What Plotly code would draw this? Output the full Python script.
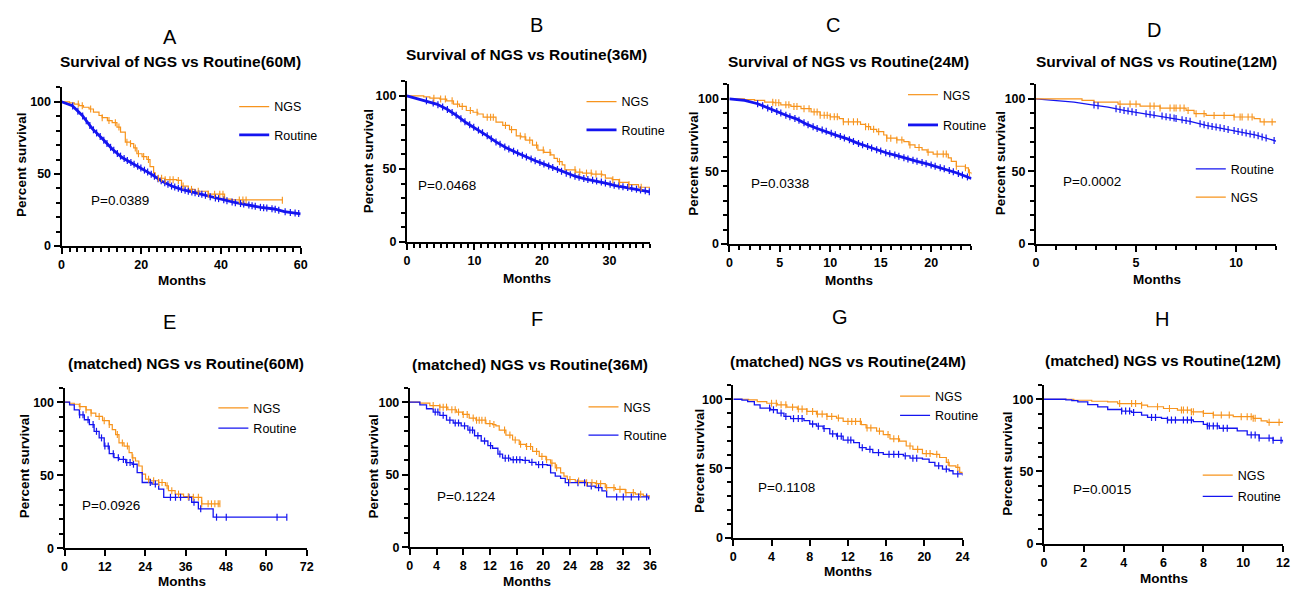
import numpy as np
import plotly.graph_objects as go

# ---------------- data ----------------
# Panel A : Survival of NGS vs Routine (60M)
A_ngs_t = [0, 2.0, 3.2, 4.4, 5.5, 6.9, 8.0, 9.4, 10.2, 11.5, 12.7, 13.9, 14.8, 16.0, 17.3, 18.1, 18.9, 20.2, 21.4, 22.2, 23.1, 23.5, 26.0, 28.9, 30.1, 31.8, 33.5, 36.8, 40.9, 42.6, 55.4]
A_ngs_s = [100, 99.3, 98.4, 97.3, 96.2, 95.0, 92.8, 90.5, 89.0, 87.0, 85.5, 82.5, 79.0, 72.0, 71.0, 68.0, 64.0, 62.0, 60.0, 55.0, 50.7, 47.0, 46.0, 45.5, 41.6, 39.3, 38.0, 36.0, 32.5, 32.0, 31.8]
A_ngs_c = [4.2, 5.2, 7.3, 10.2, 11.9, 13.5, 14.4, 16.4, 17.3, 18.5, 19.3, 20.6, 21.8, 24.3, 25.1, 26.0, 27.2, 28.0, 29.3, 30.5, 32.6, 34.3, 36.8, 38.4, 39.7, 40.5, 44.6, 45.5, 46.3, 55.4]
A_rt_t = [0, 2.7, 5.2, 7.7, 10.2, 12.7, 15.2, 17.7, 20.2, 22.7, 25.1, 27.6, 30.1, 32.6, 35.1, 37.6, 40.0, 43.4, 46.7, 50.0, 53.4, 55.9, 60.0]
A_rt_s = [100, 97.3, 90.5, 81.4, 74.5, 67.3, 61.4, 57.5, 53.6, 49.5, 45.0, 41.6, 39.3, 37.5, 36.0, 34.0, 32.5, 30.2, 28.6, 26.8, 25.7, 23.9, 22.3]
A_rt_c = [2.8, 4.1, 5.3, 6.2, 7.1, 8.0, 8.8, 9.7, 10.6, 11.4, 12.3, 13.1, 14.0, 14.8, 15.7, 16.5, 17.4, 18.2, 19.1, 19.9, 20.8, 21.6, 22.5, 23.3, 24.2, 25.0, 25.9, 26.7, 27.6, 28.4, 29.3, 30.1, 31.0, 31.8, 32.7, 33.5, 34.4, 35.2, 36.1, 37.3, 38.6, 39.4, 40.7, 41.5, 42.8, 43.6, 44.9, 45.7, 47.0, 47.8, 48.6, 49.9, 50.7, 51.5, 52.8, 53.6, 54.5, 56.1, 57.4, 58.6, 59.5]

# Panel B : Survival of NGS vs Routine (36M)
B_ngs_t = [0, 2.5, 3.4, 4.9, 5.9, 6.9, 7.8, 8.8, 9.8, 10.5, 11.3, 13.2, 14.2, 15.2, 16.2, 16.9, 17.6, 18.6, 19.4, 20.3, 21.3, 21.8, 22.3, 23.0, 23.4, 25.0, 26.0, 27.4, 28.9, 29.4, 30.4, 31.4, 32.8, 34.3, 36.0]
B_ngs_s = [100, 99.3, 98.4, 97.8, 96.6, 94.4, 92.8, 90.0, 88.8, 87.6, 85.4, 82.0, 79.8, 76.9, 72.6, 72.0, 69.7, 66.3, 62.9, 61.3, 59.6, 57.3, 55.0, 52.8, 49.4, 47.9, 47.2, 46.5, 46.0, 43.8, 42.7, 40.9, 39.3, 37.5, 36.6]
B_ngs_c = [4.0, 5.0, 5.7, 6.7, 7.5, 8.2, 9.4, 10.4, 11.9, 12.4, 12.8, 14.6, 15.5, 16.8, 17.5, 18.2, 19.2, 20.2, 21.2, 22.6, 24.9, 25.6, 26.6, 27.3, 28.0, 28.8, 30.5, 31.5, 32.9, 34.7]
B_rt_t = [0, 1.5, 2.9, 4.4, 5.9, 7.4, 8.8, 10.3, 11.8, 13.2, 14.7, 16.2, 17.6, 19.1, 20.6, 22.1, 23.5, 25.0, 26.5, 27.9, 29.4, 30.9, 32.4, 33.8, 36.0]
B_rt_s = [100, 98.2, 96.6, 94.4, 91.0, 86.5, 81.6, 77.5, 73.0, 68.5, 64.5, 61.3, 58.4, 55.5, 52.8, 50.1, 47.2, 44.9, 43.1, 42.0, 40.4, 38.7, 37.5, 36.4, 34.4]
B_rt_c = [2.9, 3.9, 4.6, 5.3, 6.0, 6.7, 7.3, 8.0, 8.6, 9.3, 9.9, 10.6, 11.2, 11.9, 12.5, 13.2, 13.8, 14.5, 15.1, 15.8, 16.4, 17.1, 17.7, 18.4, 19.0, 19.7, 20.3, 21.0, 21.6, 22.3, 22.9, 23.6, 24.2, 24.9, 25.5, 26.2, 26.8, 27.5, 28.1, 28.8, 29.4, 30.1, 30.7, 31.4, 32.0, 32.7, 33.3, 34.0, 34.6, 35.3, 35.9]

# Panel C : Survival of NGS vs Routine (24M)
C_ngs_t = [0, 1.5, 2.5, 3.5, 4.4, 5.1, 6.1, 7.1, 8.1, 9.0, 10.0, 10.9, 11.3, 13.0, 13.5, 14.0, 14.6, 15.3, 15.6, 16.6, 17.3, 17.8, 18.4, 19.1, 19.6, 20.2, 21.7, 22.0, 22.5, 23.4, 23.7, 24.0]
C_ngs_s = [100, 99.5, 99.0, 97.7, 97.3, 95.9, 94.8, 93.2, 91.0, 88.7, 87.6, 86.4, 84.2, 82.4, 80.8, 79.0, 77.4, 75.1, 72.9, 71.7, 70.6, 68.3, 66.5, 64.9, 63.3, 62.0, 59.3, 57.0, 53.6, 52.5, 49.1, 48.0]
C_ngs_c = [4.3, 4.6, 4.9, 5.6, 5.9, 6.4, 6.7, 7.4, 7.9, 8.4, 8.7, 9.0, 9.4, 9.7, 10.0, 10.4, 10.7, 11.3, 11.8, 12.3, 12.7, 13.5, 13.8, 14.3, 14.8, 15.6, 16.0, 16.6, 17.1, 17.9, 18.8, 19.7, 20.6, 21.2, 21.5, 22.5, 23.4, 23.8]
C_rt_t = [0, 1.5, 2.8, 3.8, 4.8, 5.8, 6.7, 7.7, 8.7, 9.7, 10.7, 11.7, 12.7, 13.7, 14.6, 15.6, 16.6, 17.6, 18.6, 19.6, 20.6, 21.5, 22.5, 24.0]
C_rt_s = [100, 98.9, 96.6, 93.7, 91.0, 88.2, 86.0, 82.4, 79.6, 77.4, 74.7, 72.4, 69.5, 67.2, 64.9, 62.7, 60.9, 58.8, 57.0, 55.2, 53.2, 51.4, 49.1, 45.2]
C_rt_c = [2.8, 3.3, 3.8, 4.2, 4.7, 5.1, 5.6, 6.0, 6.5, 6.9, 7.4, 7.8, 8.3, 8.7, 9.2, 9.6, 10.1, 10.5, 11.0, 11.4, 11.9, 12.3, 12.8, 13.2, 13.7, 14.1, 14.6, 15.0, 15.5, 15.9, 16.4, 16.8, 17.3, 17.7, 18.2, 18.6, 19.1, 19.5, 20.0, 20.4, 20.9, 21.3, 21.8, 22.2, 22.7, 23.1, 23.6]

# Panel D : Survival of NGS vs Routine (12M)
D_ngs_t = [0, 2.3, 2.9, 4.1, 5.2, 6.2, 7.5, 7.9, 8.5, 9.9, 10.9, 11.2, 12.0]
D_ngs_s = [100, 98.9, 97.7, 96.4, 95.0, 93.6, 92.0, 89.8, 88.6, 87.5, 86.4, 84.1, 84.1]
D_ngs_c = [4.2, 4.7, 5.0, 5.7, 5.9, 6.2, 6.7, 6.9, 7.0, 7.2, 7.4, 7.6, 8.0, 8.4, 8.9, 9.4, 9.9, 10.2, 10.3, 10.6, 10.8, 11.4, 11.8]
D_rt_t = [0, 1.1, 1.9, 2.8, 3.6, 4.4, 5.2, 6.1, 6.9, 7.7, 8.5, 9.4, 10.2, 11.0, 12.0]
D_rt_s = [100, 98.9, 97.7, 95.9, 94.3, 92.0, 90.2, 88.6, 86.8, 84.5, 81.8, 79.5, 77.3, 75.0, 70.9]
D_rt_c = [2.9, 3.1, 4.0, 4.2, 4.4, 4.6, 4.8, 5.0, 5.5, 5.7, 5.9, 6.3, 6.5, 6.7, 6.9, 7.0, 7.3, 7.5, 7.7, 8.2, 8.4, 8.6, 8.8, 9.0, 9.2, 9.4, 9.6, 9.9, 10.1, 10.3, 10.5, 10.7, 10.9, 11.1, 11.3, 11.5, 11.9]

# Panel E : (matched) NGS vs Routine (60M)
E_ngs_t = [0, 1.5, 2.9, 4.4, 6.4, 7.9, 9.3, 11.3, 13.3, 14.2, 15.2, 16.2, 17.7, 19.2, 20.1, 21.1, 22.1, 23.1, 24.1, 25.5, 28.0, 30.0, 30.9, 32.9, 35.4, 38.3, 40.8, 46.2]
E_ngs_s = [100, 99.3, 98.6, 97.0, 94.8, 92.6, 90.3, 87.4, 84.7, 81.3, 77.9, 72.2, 70.0, 65.5, 62.0, 59.8, 56.4, 50.8, 47.4, 46.3, 45.1, 42.9, 39.5, 37.2, 35.4, 35.0, 30.5, 30.5]
E_ngs_c = [4.6, 6.4, 7.9, 10.3, 11.8, 13.3, 15.7, 17.2, 18.7, 20.3, 25.0, 26.5, 28.0, 29.0, 30.5, 31.9, 33.9, 36.8, 38.3, 39.8, 40.8, 42.7, 43.7, 44.7, 45.7, 46.2]
E_rt_t = [0, 1.5, 2.9, 4.4, 5.9, 7.4, 8.8, 10.3, 11.8, 13.3, 14.7, 16.2, 18.2, 20.1, 21.6, 23.1, 26.0, 28.0, 29.5, 35.4, 37.8, 39.8, 44.2, 66.1]
E_rt_s = [100, 98.2, 94.8, 91.4, 88.0, 84.7, 80.1, 75.6, 70.0, 64.8, 62.1, 60.9, 58.7, 57.6, 51.9, 45.1, 44.0, 40.6, 35.0, 35.0, 31.6, 27.1, 21.4, 21.4]
E_rt_c = [4.5, 5.5, 7.0, 8.5, 9.5, 11.0, 12.0, 13.0, 14.5, 16.0, 17.5, 18.5, 19.5, 20.5, 25.5, 27.0, 31.5, 33.0, 34.5, 37.0, 38.5, 40.5, 45.2, 48.1, 63.2, 66.1]

# Panel F : (matched) NGS vs Routine (36M)
F_ngs_t = [0, 1.5, 3.0, 4.5, 5.7, 7.0, 7.9, 8.9, 9.9, 11.4, 12.4, 12.9, 13.4, 14.4, 15.4, 16.4, 17.4, 18.4, 19.4, 20.4, 21.1, 21.8, 22.6, 23.1, 23.6, 24.8, 26.3, 27.8, 29.3, 30.8, 32.3, 33.8, 35.0, 36.0]
F_ngs_s = [100, 99.3, 97.7, 96.6, 94.8, 93.2, 91.6, 89.1, 87.6, 85.3, 84.6, 83.7, 80.8, 77.4, 74.0, 71.0, 69.5, 66.1, 62.7, 60.4, 58.1, 54.8, 51.4, 49.1, 46.8, 45.7, 44.6, 43.9, 41.2, 40.0, 37.8, 36.7, 35.5, 33.9]
F_ngs_c = [3.5, 4.5, 5.0, 5.5, 6.3, 6.8, 7.3, 8.0, 8.6, 9.5, 10.0, 10.4, 10.8, 11.3, 12.0, 12.6, 14.2, 15.0, 15.8, 16.6, 17.5, 18.1, 19.0, 19.8, 20.5, 21.3, 22.0, 24.0, 25.3, 26.5, 27.3, 28.0, 28.6, 29.5, 30.6, 31.5, 32.4, 33.5, 34.6]
F_rt_t = [0, 1.5, 2.5, 3.5, 4.5, 5.5, 6.5, 7.7, 8.7, 9.7, 10.7, 11.7, 12.4, 13.2, 13.9, 15.1, 16.9, 17.9, 18.9, 20.6, 21.1, 21.8, 22.6, 23.3, 25.8, 26.6, 27.8, 28.8, 29.5, 35.8]
F_rt_s = [100, 98.2, 95.5, 93.2, 91.0, 87.6, 85.7, 83.7, 80.8, 76.9, 73.3, 70.1, 68.3, 64.3, 61.5, 60.4, 60.0, 58.6, 57.0, 56.6, 51.4, 49.1, 47.5, 44.6, 44.6, 42.3, 41.2, 38.9, 34.8, 33.0]
F_rt_c = [3.8, 4.2, 5.0, 6.0, 6.8, 7.3, 8.2, 9.0, 9.4, 10.2, 11.2, 12.1, 13.5, 14.3, 14.8, 15.5, 16.0, 16.5, 17.3, 18.3, 19.3, 19.9, 23.8, 25.2, 26.2, 27.2, 28.3, 31.0, 32.0, 33.2, 34.3, 35.5]

# Panel G : (matched) NGS vs Routine (24M)
G_ngs_t = [0, 1.6, 2.5, 3.5, 4.6, 5.6, 6.7, 7.7, 8.7, 9.8, 10.8, 11.5, 13.4, 13.9, 15.0, 15.7, 16.4, 17.4, 18.1, 18.8, 19.8, 20.9, 21.6, 22.3, 22.6, 23.3, 23.7, 24.0]
G_ngs_s = [100, 99.5, 98.3, 97.1, 96.0, 94.3, 92.9, 91.2, 89.3, 87.6, 86.4, 84.0, 81.7, 79.3, 76.9, 74.5, 71.4, 69.8, 66.2, 63.8, 60.7, 60.2, 57.9, 54.3, 51.9, 50.7, 47.1, 46.0]
G_ngs_c = [4.0, 4.5, 5.0, 5.5, 6.2, 6.8, 7.2, 7.7, 8.3, 8.8, 9.3, 9.8, 10.3, 11.0, 12.0, 12.4, 12.8, 13.3, 14.0, 14.4, 15.3, 16.2, 16.8, 17.3, 18.5, 19.3, 20.2, 20.6, 21.3, 22.5, 23.5]
G_rt_t = [0, 0.9, 1.5, 2.2, 2.8, 3.9, 4.6, 5.3, 6.0, 7.4, 8.0, 8.7, 9.4, 10.1, 10.8, 11.5, 12.6, 13.2, 13.9, 14.6, 15.7, 17.8, 18.5, 19.8, 20.5, 21.1, 21.9, 22.6, 23.0, 24.0]
G_rt_s = [100, 99.3, 98.3, 96.0, 93.6, 92.4, 90.0, 87.6, 86.0, 84.5, 82.1, 80.5, 78.8, 75.0, 73.3, 70.5, 68.6, 65.0, 63.8, 61.4, 60.2, 59.0, 57.4, 56.7, 54.3, 51.9, 49.5, 48.3, 46.0, 44.8]
G_rt_c = [3.8, 4.2, 5.0, 5.5, 6.3, 6.8, 7.2, 8.3, 8.9, 9.5, 10.4, 10.9, 11.3, 12.0, 12.3, 13.5, 14.3, 15.2, 16.3, 16.8, 17.3, 18.0, 18.8, 19.2, 21.5, 22.3, 23.5]

# Panel H : (matched) NGS vs Routine (12M)
H_ngs_t = [0, 1.5, 2.4, 3.2, 3.7, 4.9, 5.2, 6.0, 6.7, 7.4, 8.0, 8.5, 9.5, 10.5, 10.9, 11.2, 12.0]
H_ngs_s = [100, 99.3, 98.6, 98.2, 97.0, 95.9, 94.8, 93.6, 92.5, 91.3, 90.2, 89.0, 87.9, 86.8, 85.0, 84.0, 84.0]
H_ngs_c = [3.8, 4.4, 4.6, 4.9, 5.7, 6.3, 6.9, 7.0, 7.2, 7.4, 7.5, 8.0, 8.5, 8.9, 9.3, 9.9, 10.2, 10.4, 10.5, 10.6, 11.3, 11.8]
H_rt_t = [0, 1.1, 1.4, 1.7, 2.2, 2.7, 3.2, 3.9, 4.4, 4.9, 5.2, 5.9, 6.2, 7.5, 8.0, 8.2, 8.8, 9.7, 10.2, 10.8, 11.5, 12.0]
H_rt_s = [100, 99.5, 99.0, 98.2, 96.3, 94.7, 92.9, 91.8, 90.9, 89.0, 87.4, 86.8, 85.6, 84.5, 82.6, 81.5, 79.9, 78.1, 75.3, 73.1, 71.5, 70.1]
H_rt_c = [3.9, 4.1, 4.3, 4.5, 5.4, 5.6, 6.2, 6.4, 6.6, 7.0, 7.2, 7.4, 8.2, 8.3, 8.5, 8.7, 9.0, 9.2, 10.4, 10.6, 10.8, 11.3, 11.5, 11.9]

letters = ["A", "B", "C", "D", "E", "F", "G", "H"]
titles = ["Survival of NGS vs Routine(60M)", "Survival of NGS vs Routine(36M)",
          "Survival of NGS vs Routine(24M)", "Survival of NGS vs Routine(12M)",
          "(matched) NGS vs Routine(60M)", "(matched) NGS vs Routine(36M)",
          "(matched) NGS vs Routine(24M)", "(matched) NGS vs Routine(12M)"]
p_values = ["P=0.0389", "P=0.0468", "P=0.0338", "P=0.0002",
            "P=0.0926", "P=0.1224", "P=0.1108", "P=0.0015"]
x_max = [60, 36, 24, 12, 72, 36, 24, 12]
x_dtick = [20, 10, 5, 5, 12, 4, 4, 2]
x_minor = [2, 1, 1, 1, None, None, None, None]
legend_order = [["NGS", "Routine"]] * 3 + [["Routine", "NGS"]] + [["NGS", "Routine"]] * 4

series = {
    "A": ((A_ngs_t, A_ngs_s, A_ngs_c), (A_rt_t, A_rt_s, A_rt_c)),
    "B": ((B_ngs_t, B_ngs_s, B_ngs_c), (B_rt_t, B_rt_s, B_rt_c)),
    "C": ((C_ngs_t, C_ngs_s, C_ngs_c), (C_rt_t, C_rt_s, C_rt_c)),
    "D": ((D_ngs_t, D_ngs_s, D_ngs_c), (D_rt_t, D_rt_s, D_rt_c)),
    "E": ((E_ngs_t, E_ngs_s, E_ngs_c), (E_rt_t, E_rt_s, E_rt_c)),
    "F": ((F_ngs_t, F_ngs_s, F_ngs_c), (F_rt_t, F_rt_s, F_rt_c)),
    "G": ((G_ngs_t, G_ngs_s, G_ngs_c), (G_rt_t, G_rt_s, G_rt_c)),
    "H": ((H_ngs_t, H_ngs_s, H_ngs_c), (H_rt_t, H_rt_s, H_rt_c)),
}

# ---------------- layout (pixel positions in the 1299 x 595 canvas) ----------------
W, H = 1299, 595
# axes: x0, x1, y(0), y(100)
ax_px = [(59, 300, 249, 103), (407, 652, 245, 97), (732, 976, 247, 100), (1041, 1283, 247, 100),
         (62, 306, 555, 407), (410, 652, 554, 407), (736, 967, 544, 404), (1049, 1290, 550, 404)]
letter_px = [(168, 37), (538, 25), (836, 25), (1160, 30), (168, 326), (538, 323), (843, 321), (1168, 323)]
title_px = [(179, 62), (528, 55), (852, 62), (1162, 62), (184, 368), (531, 369), (852, 366), (1169, 365)]
ylab_px = [(18, 167), (368, 163), (695, 166), (1005, 165), (22, 472), (373, 472), (702, 467), (1012, 469)]
xlab_px = [(180, 284), (528, 282), (853, 284), (1163, 283), (180, 588), (528, 588), (852, 578), (1170, 585)]
p_px = [(118, 203), (447, 188), (783, 186), (1097, 184), (109, 512), (467, 502), (790, 493), (1108, 495)]
# legend: text start x, first entry centre y, entry spacing
leg_px = [(273, 103, 30), (623, 98, 30), (947, 91, 32), (1237, 166, 30),
          (252, 408, 22), (625, 407, 30), (939, 396, 21), (1244, 476, 23)]

ORANGE = "#F7941D"
BLUE = "#1414F0"
FONT = "Liberation Sans, Arial, Helvetica, sans-serif"
YMAX = 110


def fx(px):
    return px / W


def fy(py):
    return 1 - py / H


def level_at(t_arr, s_arr, t, linear):
    if linear:
        return float(np.interp(t, t_arr, s_arr))
    idx = int(np.searchsorted(np.asarray(t_arr), t, side="right")) - 1
    return s_arr[max(idx, 0)]


fig = go.Figure()
layout = dict(width=W, height=H, margin=dict(l=0, r=0, t=0, b=0),
              paper_bgcolor="white", plot_bgcolor="white",
              font=dict(family=FONT, color="black"), annotations=[])

for i, key in enumerate(letters):
    n = i + 1
    xa = "x" if n == 1 else f"x{n}"
    ya = "y" if n == 1 else f"y{n}"
    lg = "legend" if n == 1 else f"legend{n}"
    x0, x1, yb, y100 = ax_px[i]
    ytop = yb - (yb - y100) * YMAX / 100.0

    (nt, ns, nc), (rt, rs, rc) = series[key]
    rt_linear = key in ("A", "B", "C", "D")
    dense = key in ("A", "B", "C")
    rt_width = 2.8 if dense else 1.3

    line_traces = {
        "NGS": go.Scatter(x=nt, y=ns, mode="lines", name="NGS", line=dict(color=ORANGE, width=1.2, shape="hv"),
                          xaxis=xa, yaxis=ya, legend=lg, legendgroup=f"{key}ngs", cliponaxis=False,
                          hoverinfo="skip"),
        "Routine": go.Scatter(x=rt, y=rs, mode="lines", name="Routine",
                              line=dict(color=BLUE, width=rt_width, shape="linear" if rt_linear else "hv"),
                              xaxis=xa, yaxis=ya, legend=lg, legendgroup=f"{key}rt", cliponaxis=False,
                              hoverinfo="skip"),
    }
    for name in legend_order[i]:
        fig.add_trace(line_traces[name])

    # censor ticks
    fig.add_trace(go.Scatter(x=rc, y=[level_at(rt, rs, c, rt_linear) for c in rc], mode="markers",
                             marker=dict(symbol="line-ns", size=5, line=dict(color=BLUE, width=1.2)),
                             xaxis=xa, yaxis=ya, showlegend=False, cliponaxis=False, hoverinfo="skip"))
    fig.add_trace(go.Scatter(x=nc, y=[level_at(nt, ns, c, False) for c in nc], mode="markers",
                             marker=dict(symbol="line-ns", size=5, line=dict(color=ORANGE, width=1.1)),
                             xaxis=xa, yaxis=ya, showlegend=False, cliponaxis=False, hoverinfo="skip"))

    xaxis = dict(domain=[fx(x0), fx(x1)], range=[0, x_max[i]], anchor=ya, showline=True, linecolor="black",
                 linewidth=2, ticks="outside", ticklen=6, tickwidth=2, tickcolor="black", tick0=0,
                 dtick=x_dtick[i], showgrid=False, zeroline=False, fixedrange=True,
                 tickfont=dict(family=FONT, size=12.5, color="black", weight="bold"))
    if x_minor[i]:
        xaxis["minor"] = dict(dtick=x_minor[i], tick0=0, ticks="outside", ticklen=4, tickwidth=1.5,
                              tickcolor="black", showgrid=False)
    yaxis = dict(domain=[fy(yb), fy(ytop)], range=[0, YMAX], anchor=xa, showline=True, linecolor="black",
                 linewidth=2, ticks="outside", ticklen=6, tickwidth=2, tickcolor="black", tick0=0, dtick=50,
                 showgrid=False, zeroline=False, fixedrange=True,
                 tickfont=dict(family=FONT, size=12.5, color="black", weight="bold"),
                 minor=dict(dtick=10, tick0=0, ticks="outside", ticklen=4, tickwidth=1.5, tickcolor="black",
                            showgrid=False))
    layout["xaxis" if n == 1 else f"xaxis{n}"] = xaxis
    layout["yaxis" if n == 1 else f"yaxis{n}"] = yaxis

    tx, ty1, sp = leg_px[i]
    layout[lg] = dict(x=fx(tx - 40), y=fy(ty1 - 10), xanchor="left", yanchor="top", bgcolor="rgba(0,0,0,0)",
                      borderwidth=0, traceorder="grouped", tracegroupgap=max(sp - 21, 0),
                      font=dict(family=FONT, size=12.5, color="black"), itemclick=False, itemdoubleclick=False)

    ann = layout["annotations"]
    ann.append(dict(text=key, x=fx(letter_px[i][0]), y=fy(letter_px[i][1]), xref="paper", yref="paper",
                    showarrow=False, xanchor="center", yanchor="middle", font=dict(size=20, family=FONT)))
    ann.append(dict(text=f"<b>{titles[i]}</b>", x=fx(title_px[i][0]), y=fy(title_px[i][1]), xref="paper",
                    yref="paper", showarrow=False, xanchor="center", yanchor="middle",
                    font=dict(size=15.5, family=FONT)))
    ann.append(dict(text="<b>Percent survival</b>", x=fx(ylab_px[i][0]), y=fy(ylab_px[i][1]), xref="paper",
                    yref="paper", showarrow=False, textangle=-90, xanchor="center", yanchor="middle",
                    font=dict(size=13.5, family=FONT)))
    ann.append(dict(text="<b>Months</b>", x=fx(xlab_px[i][0]), y=fy(xlab_px[i][1]), xref="paper",
                    yref="paper", showarrow=False, xanchor="center", yanchor="middle",
                    font=dict(size=13.5, family=FONT)))
    ann.append(dict(text=p_values[i], x=fx(p_px[i][0]), y=fy(p_px[i][1]), xref="paper", yref="paper",
                    showarrow=False, xanchor="center", yanchor="middle", font=dict(size=13.5, family=FONT)))

fig.update_layout(**layout)
fig.write_html("out.html", config={"displayModeBar": False},
               post_script="document.body.style.margin='0';document.body.style.overflow='hidden';")
